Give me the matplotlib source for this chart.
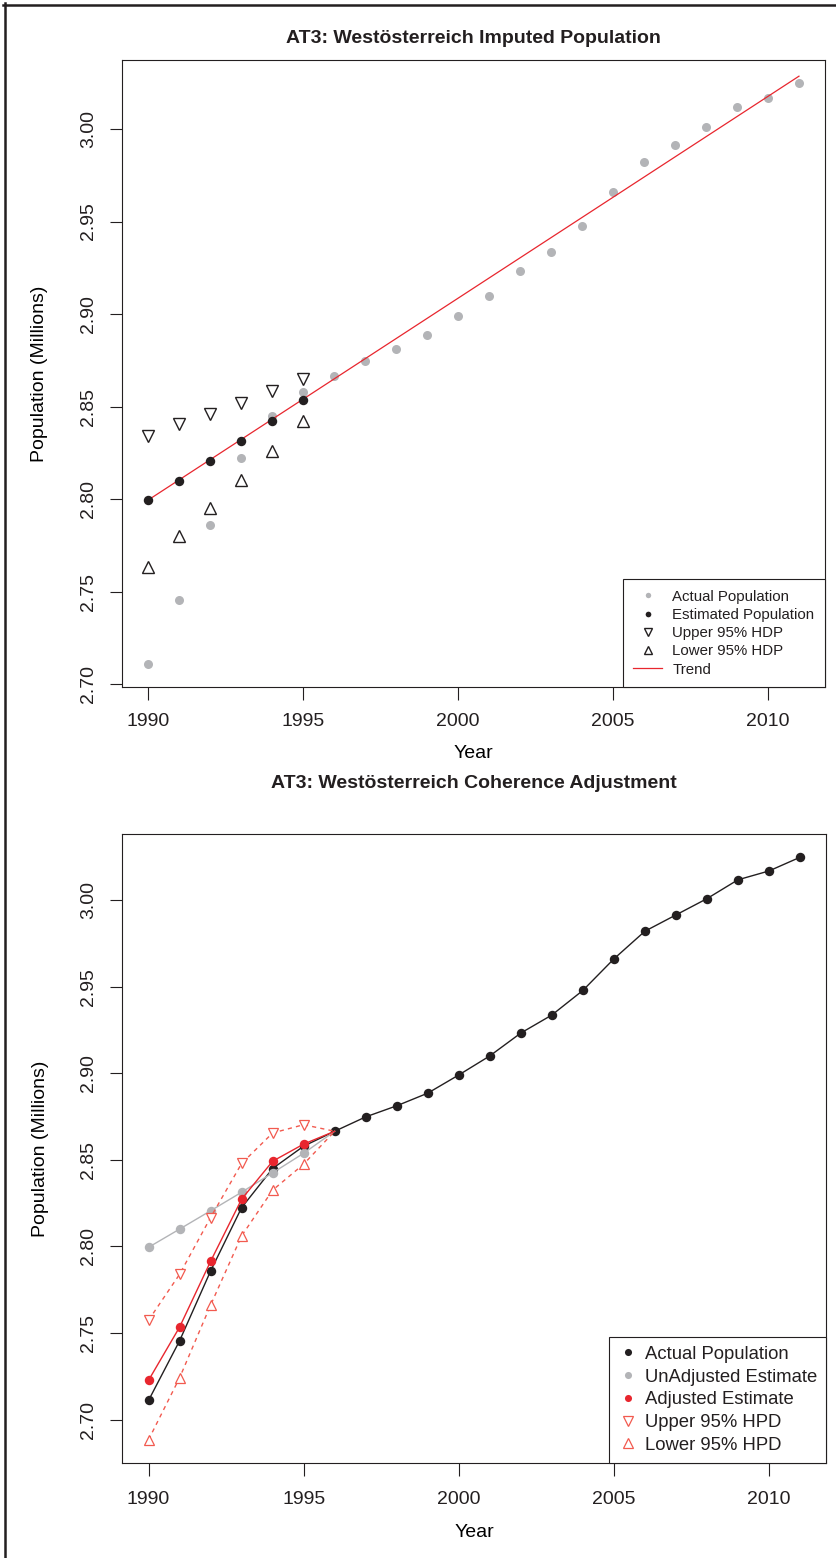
import numpy as np
import matplotlib.pyplot as plt
from matplotlib.lines import Line2D

plt.rcParams['font.family'] = ['Liberation Sans', 'DejaVu Sans']
plt.rcParams['text.color'] = '#231f20'

# ---- data ----
years = list(range(1990, 2012))
actual = [2.7111, 2.7455, 2.7858, 2.8224, 2.8450, 2.8579, 2.8665, 2.8748, 2.8812,
          2.8885, 2.8990, 2.9100, 2.9232, 2.9336, 2.9478, 2.9660, 2.9820, 2.9914,
          3.0008, 3.0117, 3.0168, 3.0247]

est_years = [1990, 1991, 1992, 1993, 1994, 1995]
estimated = [2.7995, 2.8100, 2.8206, 2.8313, 2.8425, 2.8538]
upper_hdp = [2.8344, 2.8407, 2.8460, 2.8518, 2.8582, 2.8650]
lower_hdp = [2.7636, 2.7800, 2.7955, 2.8102, 2.8260, 2.8425]

trend_years = [1990, 2011]
trend = [2.7995, 3.0285]

# panel 2 (1990-1996, joins the actual series at 1996)
adj_years = [1990, 1991, 1992, 1993, 1994, 1995, 1996]
unadjusted = [2.7995, 2.8100, 2.8206, 2.8313, 2.8425, 2.8538, 2.8665]
adjusted = [2.7227, 2.7534, 2.7914, 2.8273, 2.8492, 2.8591, 2.8665]
upper_hpd = [2.7574, 2.7839, 2.8167, 2.8479, 2.8655, 2.8703, 2.8665]
lower_hpd = [2.6884, 2.7241, 2.7661, 2.8061, 2.8325, 2.8475, 2.8665]

xticks = [1990, 1995, 2000, 2005, 2010]
yticks = [2.70, 2.75, 2.80, 2.85, 2.90, 2.95, 3.00]

GRAY = '#b3b4b7'
BLACK = '#231f20'
RED = '#e8262e'
LRED = '#f25a4f'

W, H = 837, 1558
fig = plt.figure(figsize=(W / 100, H / 100), dpi=100)
fig.set_facecolor('white')


def px_axes(left, top, right, bottom):
    return fig.add_axes([left / W, 1 - bottom / H, (right - left) / W, (bottom - top) / H])


def r_style(ax, ymin, ymax, title, title_pad, xlab_y, tick_pad):
    r = ymax - ymin
    ax.set_ylim(ymin - 0.04 * r, ymax + 0.04 * r)
    ax.set_xlim(1990 - 0.04 * 21, 2011 + 0.04 * 21)
    ax.set_xticks(xticks)
    ax.set_xticklabels([str(t) for t in xticks])
    ax.set_yticks(yticks)
    ax.set_yticklabels(['%.2f' % t for t in yticks], rotation=90, va='center')
    ax.tick_params(direction='out', length=9, width=0.8, color=BLACK,
                   labelsize=14, labelcolor=BLACK)
    ax.tick_params(axis='x', pad=tick_pad)
    ax.tick_params(axis='y', pad=9)
    for s in ax.spines.values():
        s.set_linewidth(0.8)
        s.set_color(BLACK)
    ax.set_title(title, fontsize=14, fontweight='bold', pad=title_pad, color=BLACK)
    ax.set_xlabel('Year', fontsize=14)
    ax.set_ylabel('Population (Millions)', fontsize=14)
    ax.xaxis.set_label_coords(0.5, xlab_y)
    ax.yaxis.set_label_coords(-0.105, 0.5)


# ---------------- panel 1 ----------------
ax1 = px_axes(122, 60, 825, 687)
ax1.plot(years, actual, 'o', color=GRAY, ms=6.5, mec='none', label='Actual Population', zorder=2)
ax1.plot(trend_years, trend, '-', color=RED, lw=0.9, zorder=3)
ax1.plot(est_years, estimated, 'o', color=BLACK, ms=6.8, mec='none', label='Estimated Population', zorder=4)
ax1.plot(est_years, upper_hdp, 'v', mfc='white', mec=BLACK, mew=1.0, ms=9, label='Upper 95% HDP', zorder=4)
ax1.plot(est_years, lower_hdp, '^', mfc='white', mec=BLACK, mew=1.0, ms=9, label='Lower 95% HDP', zorder=4)
ax1.plot([], [], '-', color=RED, lw=0.9, label='Trend')
r_style(ax1, min(actual), max(actual), 'AT3: Westösterreich Imputed Population', 12, -0.092, 10)

leg1 = ax1.legend(loc='lower right', borderaxespad=0, fancybox=False, edgecolor=BLACK,
                  framealpha=1, fontsize=10.8, markerscale=0.6, handlelength=1.9,
                  handletextpad=0.7, labelspacing=0.28, borderpad=0.7)
leg1.get_frame().set_linewidth(0.8)

# ---------------- panel 2 ----------------
ax2 = px_axes(122.5, 834, 826, 1463)
ax2.plot(years, actual, '-o', color=BLACK, lw=1.0, ms=6.8, mec='none', label='Actual Population', zorder=2)
ax2.plot(adj_years, unadjusted, '-o', color=GRAY, lw=1.0, ms=6.8, mec='none', markevery=slice(0, 6),
         label='UnAdjusted Estimate', zorder=3)
ax2.plot(adj_years, adjusted, '-o', color=RED, lw=1.0, ms=6.8, mec='none', markevery=slice(0, 6),
         label='Adjusted Estimate', zorder=4)
ax2.plot(adj_years, upper_hpd, 'v', ls=(0, (3, 3)), color=LRED, lw=1.0, mfc='white', mec=LRED, mew=0.9,
         ms=7, markevery=slice(0, 6), label='Upper 95% HPD', zorder=5)
ax2.plot(adj_years, lower_hpd, '^', ls=(0, (3, 3)), color=LRED, lw=1.0, mfc='white', mec=LRED, mew=0.9,
         ms=7, markevery=slice(0, 6), label='Lower 95% HPD', zorder=5)
r_style(ax2, min(lower_hpd), max(actual), 'AT3: Westösterreich Coherence Adjustment', 33, -0.097, 11)

handles = [Line2D([], [], ls='none', marker='o', color=BLACK, ms=6.8, mec='none'),
           Line2D([], [], ls='none', marker='o', color=GRAY, ms=6.8, mec='none'),
           Line2D([], [], ls='none', marker='o', color=RED, ms=6.8, mec='none'),
           Line2D([], [], ls='none', marker='v', mfc='white', mec=LRED, mew=0.9, ms=9),
           Line2D([], [], ls='none', marker='^', mfc='white', mec=LRED, mew=0.9, ms=9)]
labels = ['Actual Population', 'UnAdjusted Estimate', 'Adjusted Estimate',
          'Upper 95% HPD', 'Lower 95% HPD']
leg2 = ax2.legend(handles, labels, loc='lower right', borderaxespad=0, fancybox=False,
                  edgecolor=BLACK, framealpha=1, fontsize=13.3, markerscale=0.75,
                  handlelength=1.0, handletextpad=0.4, labelspacing=0.31, borderpad=0.5)
leg2.get_frame().set_linewidth(0.8)

# outer frame (left and top edges)
fig.add_artist(Line2D([5 / W, 5 / W], [0, 1 - 3 / H], color=BLACK, lw=1.8))
fig.add_artist(Line2D([3.5 / W, 1], [1 - 4.5 / H, 1 - 4.5 / H], color=BLACK, lw=1.8))

fig.savefig('out.png', dpi=100, facecolor='white')
